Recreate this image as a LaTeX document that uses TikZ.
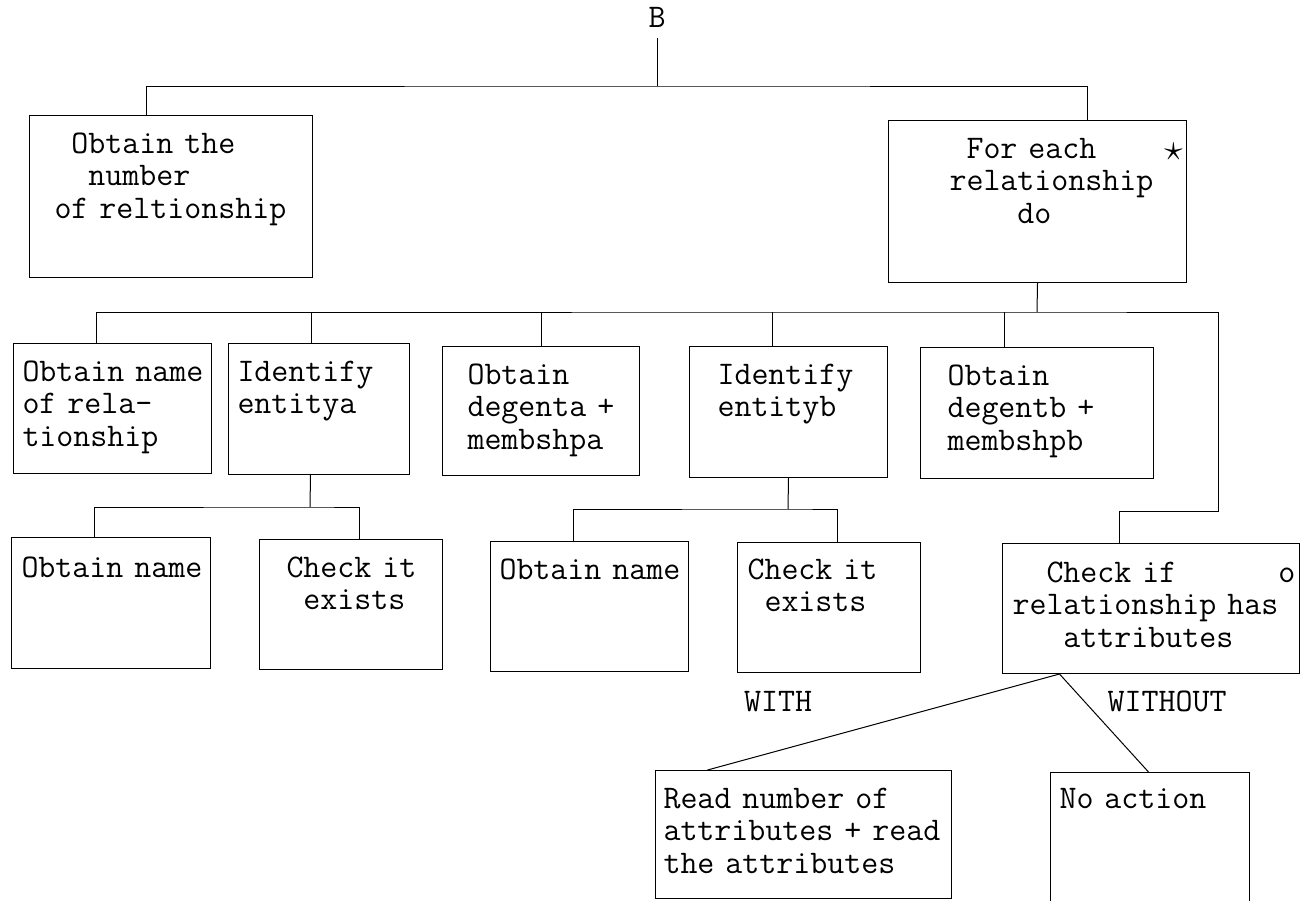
\documentclass[tikz,border=0pt]{standalone}
\usepackage{tikz}
\usepackage{graphicx}

\newcommand{\tsp}{\hphantom{0}}
\newcommand{\chartfont}{\ttfamily\fontsize{33}{32.5}\selectfont
    \fontdimen3\font=0pt\fontdimen4\font=0pt}

\tikzset{
    procbox/.style 2 args={draw, anchor=north west, inner sep=0pt,
        minimum width=#1pt, minimum height=#2pt},
    boxtext/.style={anchor=base west, inner sep=0pt, align=left,
        text width=330pt, font=\chartfont},
    tag/.style={anchor=base, inner sep=0pt, font=\chartfont},
}

\begin{document}
\begin{tikzpicture}[x=1pt, y=-1pt, line width=1pt]
    \useasboundingbox (0,0) rectangle (1306,900);

    % Entry point B
    \node[tag, inner ysep=10pt] (root) at (657,27) {B};

    % First level
    \node[procbox={283}{162}] (nrel) at (29,115) {};
    \node[boxtext] (nrelT) at ([shift={(25,38)}]nrel.north west)
        {\tsp Obtain the\\\tsp\tsp number\\of reltionship};
    \node[procbox={298}{162}] (each) at (888,120) {};
    \node[boxtext] (eachT) at ([shift={(61,38)}]each.north west)
        {\tsp For each\tsp\tsp\tsp\tsp\raisebox{-2pt}{\scalebox{1.5}{$\star$}}\\relationship\\\tsp\tsp\tsp\tsp do};

    % Second level
    \node[procbox={198}{130}] (relname) at (13,343) {};
    \node[boxtext] (relnameT) at ([shift={(9,38)}]relname.north west)
        {Obtain name\\of rela-\\tionship};
    \node[procbox={181}{131}] (idA) at (228,343) {};
    \node[boxtext] (idAT) at ([shift={(9,38)}]idA.north west)
        {Identify\\entitya};
    \node[procbox={197}{129}] (degA) at (442,346) {};
    \node[boxtext] (degAT) at ([shift={(25,38)}]degA.north west)
        {Obtain\\degenta +\\membshpa};
    \node[procbox={198}{131}] (idB) at (689,346) {};
    \node[boxtext] (idBT) at ([shift={(28,38)}]idB.north west)
        {Identify\\entityb};
    \node[procbox={233}{131}] (degB) at (920,347) {};
    \node[boxtext] (degBT) at ([shift={(27,38)}]degB.north west)
        {Obtain\\degentb +\\membshpb};

    % Third level
    \node[procbox={199}{131}] (nameA) at (11,537) {};
    \node[boxtext] (nameAT) at ([shift={(10,40)}]nameA.north west)
        {Obtain name};
    \node[procbox={183}{130}] (checkA) at (259,539) {};
    \node[boxtext] (checkAT) at ([shift={(27,38)}]checkA.north west)
        {Check it\\\tsp exists};
    \node[procbox={198}{130}] (nameB) at (490,541) {};
    \node[boxtext] (nameBT) at ([shift={(9,38)}]nameB.north west)
        {Obtain name};
    \node[procbox={183}{130}] (checkB) at (737,542) {};
    \node[boxtext] (checkBT) at ([shift={(10,37)}]checkB.north west)
        {Check it\\\tsp exists};
    \node[procbox={297}{130}] (hasattr) at (1002,543) {};
    \node[boxtext] (hasattrT) at ([shift={(10,39)}]hasattr.north west)
        {\tsp\tsp Check if\tsp\tsp\tsp\tsp\tsp\tsp o\\relationship has\\\tsp\tsp\tsp attributes};

    % Selection outcomes
    \node[tag] (withL) at (778,711) {WITH};
    \node[tag] (withoutL) at (1167,711) {WITHOUT};
    \node[procbox={296}{128}] (readattr) at (655,770) {};
    \node[boxtext] (readattrT) at ([shift={(8,38)}]readattr.north west)
        {Read number of\\attributes + read\\the attributes};
    \node[procbox={199}{135}] (noaction) at (1050,772) {};
    \node[boxtext] (noactionT) at ([shift={(9,36)}]noaction.north west)
        {No action};

    % Bus lines
    \coordinate (busA) at (657,86);
    \coordinate (busB) at (1037,312);
    \coordinate (busC) at (310,507);
    \coordinate (busD) at (788,509);

    % B to first level
    \draw (root.south) -- (busA);
    \draw ([xshift=-24.5pt]nrel.north) |- (busA) -| ([xshift=50pt]each.north);

    % Iteration to second level
    \draw (each.south) -- (busB);
    \draw ([xshift=-16pt]relname.north) |- (busB) -| (1218,511)
        -| ([xshift=-31.5pt]hasattr.north);
    \foreach \n/\dx in {idA/-7.5, degA/0, idB/-16, degB/-32.5}
        \draw ([xshift=\dx pt]\n.north) -- ([xshift=\dx pt]\n.north |- busB);

    % Identify entitya
    \draw ([xshift=-8.5pt]idA.south) -- (busC);
    \draw ([xshift=-16.5pt]nameA.north) |- (busC) -| ([xshift=8.5pt]checkA.north);

    % Identify entityb
    \draw (idB.south) -- (busD);
    \draw ([xshift=-16pt]nameB.north) |- (busD) -| ([xshift=8.5pt]checkB.north);

    % Selection on attributes
    \draw ([xshift=-96pt]readattr.north) -- ([xshift=-91.5pt]hasattr.south)
        -- ([xshift=-1.5pt]noaction.north);
\end{tikzpicture}
\end{document}
